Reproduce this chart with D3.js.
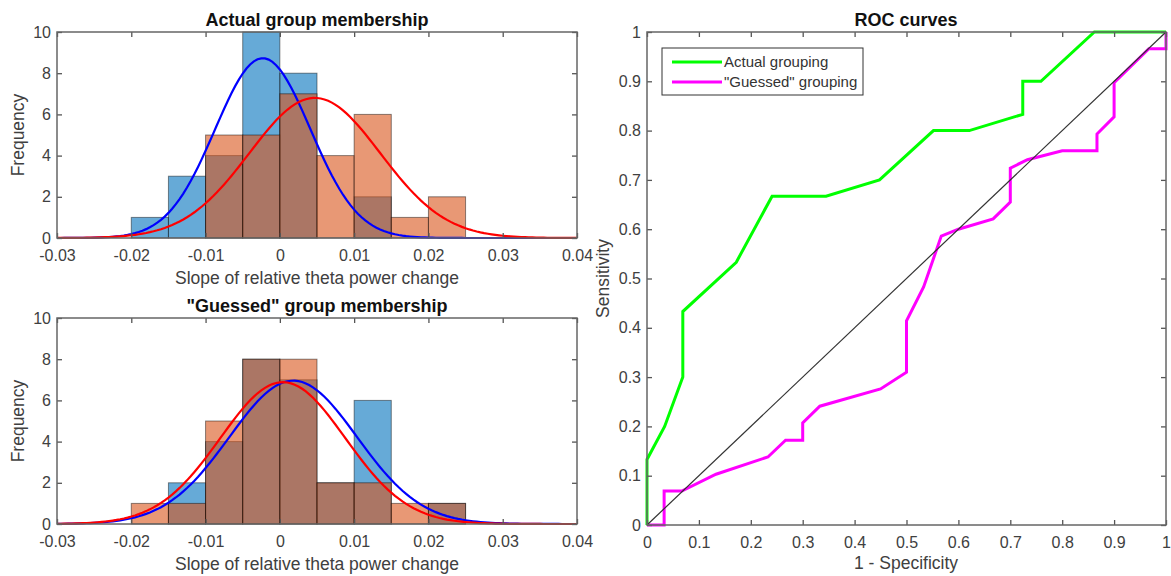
<!DOCTYPE html>
<html>
<head>
<meta charset="utf-8">
<script src="https://cdn.jsdelivr.net/npm/d3@7"></script>
<style>
body { margin: 0; background: #fff; }
text { font-family: "Liberation Sans", Arial, sans-serif; }
</style>
</head>
<body>
<div id="vis"></div>
<script>
// histogram bins (left edges, width 0.005)
const binEdges = [-0.02, -0.015, -0.01, -0.005, 0, 0.005, 0.01, 0.015, 0.02];
const BIN_W = 0.005;

// actual group membership counts
const actualBlue = [1, 3, 4, 10, 8, 0, 2, 0, 0];
const actualOrange = [0, 0, 5, 5, 7, 4, 6, 1, 2];
// guessed group membership counts
const guessedBlue = [0, 2, 4, 8, 7, 2, 6, 0, 1];
const guessedOrange = [1, 1, 5, 8, 8, 2, 2, 1, 1];

// normal fit parameters (mean, sd)
const actualFit = {blue: [-0.0023, 0.0064], red: [0.0047, 0.0088]};
const guessedFit = {blue: [0.0018, 0.0086], red: [0.0004, 0.0084]};

const histXTicks = [-0.03, -0.02, -0.01, 0, 0.01, 0.02, 0.03, 0.04];
const histYTicks = [0, 2, 4, 6, 8, 10];

// ROC curves: [1 - specificity, sensitivity]
const rocActual = [[0, 0], [0, 0.133], [0.034, 0.2], [0.069, 0.3], [0.069, 0.433],
  [0.172, 0.533], [0.241, 0.667], [0.345, 0.667], [0.448, 0.7], [0.552, 0.8],
  [0.621, 0.8], [0.724, 0.833], [0.724, 0.9], [0.759, 0.9], [0.862, 1], [1, 1]];
const rocGuessed = [[0, 0], [0.033, 0], [0.033, 0.069], [0.067, 0.069], [0.133, 0.103],
  [0.233, 0.138], [0.267, 0.172], [0.3, 0.172], [0.3, 0.207], [0.333, 0.241],
  [0.45, 0.276], [0.5, 0.31], [0.5, 0.414], [0.533, 0.483], [0.567, 0.586],
  [0.6, 0.6], [0.667, 0.621], [0.7, 0.655], [0.7, 0.724], [0.733, 0.741],
  [0.8, 0.759], [0.867, 0.759], [0.867, 0.793], [0.9, 0.828], [0.9, 0.897],
  [0.967, 0.966], [1, 0.966], [1, 1]];
const rocTicks = [0, 0.1, 0.2, 0.3, 0.4, 0.5, 0.6, 0.7, 0.8, 0.9, 1];
const legendLabels = ["Actual grouping", "\"Guessed\" grouping"];

const FRAME_WIDTH = 1171;
const FRAME_HEIGHT = 576;

const FRAME = d3.select("#vis")
  .append("svg")
    .attr("width", FRAME_WIDTH)
    .attr("height", FRAME_HEIGHT);

// plain hyphen instead of d3's unicode minus
const hyph = f => d => f(d).replace("\u2212", "-");

// draws a MATLAB style box with inward ticks on all four sides
function drawAxes(x, y, xTicks, yTicks, xFmt, yFmt) {
  const [x0, x1] = x.range();
  const [y0, y1] = y.range();
  const sides = [
    [d3.axisBottom(x).tickValues(xTicks).tickFormat(xFmt).tickPadding(12), 0, y0],
    [d3.axisTop(x).tickValues(xTicks).tickFormat(""), 0, y1],
    [d3.axisLeft(y).tickValues(yTicks).tickFormat(yFmt).tickPadding(6), x0, 0],
    [d3.axisRight(y).tickValues(yTicks).tickFormat(""), x1, 0]
  ];
  sides.forEach(([ax, tx, ty]) => {
    const g = FRAME.append("g")
      .attr("transform", "translate(" + tx + "," + ty + ")")
      .call(ax.tickSizeInner(-5).tickSizeOuter(0));
    g.select(".domain").remove();
    g.selectAll(".tick line").attr("stroke", "#555").attr("stroke-width", 1.3);
    g.selectAll(".tick text").attr("fill", "#404040").attr("font-size", 16);
  });
  FRAME.append("rect")
    .attr("x", x0).attr("y", y1)
    .attr("width", x1 - x0).attr("height", y0 - y1)
    .attr("fill", "none")
    .attr("stroke", "#666")
    .attr("stroke-width", 1.5);
}

function drawHist(top, bottom, blue, orange, fit, title) {
  const X = d3.scaleLinear().domain([-0.03, 0.04]).range([57, 577]);
  const Y = d3.scaleLinear().domain([0, 10]).range([bottom, top]);

  [[blue, "#0072BD"], [orange, "#D95319"]].forEach(([counts, col]) => {
    FRAME.append("g").selectAll("rect")
      .data(binEdges.map((e, i) => ({e: e, c: counts[i]})).filter(d => d.c > 0))
      .enter()
      .append("rect")
        .attr("x", d => X(d.e))
        .attr("y", d => Y(d.c))
        .attr("width", d => X(d.e + BIN_W) - X(d.e))
        .attr("height", d => Y(0) - Y(d.c))
        .attr("fill", col)
        .attr("fill-opacity", 0.6)
        .attr("stroke", "#000")
        .attr("stroke-opacity", 0.45)
        .attr("stroke-width", 1);
  });

  // histfit style normal curves scaled by N * bin width
  const xs = d3.range(-0.03, 0.04001, 0.0005);
  [[blue, fit.blue, "#0000FF"], [orange, fit.red, "#FF0000"]].forEach(([counts, p, col]) => {
    const n = d3.sum(counts);
    const pdf = v => n * BIN_W / (p[1] * Math.sqrt(2 * Math.PI)) *
      Math.exp(-0.5 * Math.pow((v - p[0]) / p[1], 2));
    FRAME.append("path")
      .datum(xs)
      .attr("d", d3.line().x(d => X(d)).y(d => Y(pdf(d))))
      .attr("fill", "none")
      .attr("stroke", col)
      .attr("stroke-width", 2.2);
  });

  drawAxes(X, Y, histXTicks, histYTicks,
    hyph(d => d === 0 ? "0" : d3.format(".2f")(d)), d3.format("d"));

  FRAME.append("text")
    .attr("x", 317).attr("y", top - 6)
    .attr("text-anchor", "middle")
    .attr("font-size", 18).attr("font-weight", "bold")
    .attr("fill", "#111")
    .text(title);
  FRAME.append("text")
    .attr("x", 317).attr("y", bottom + 46)
    .attr("text-anchor", "middle")
    .attr("font-size", 17.5).attr("fill", "#404040")
    .text("Slope of relative theta power change");
  FRAME.append("text")
    .attr("transform", "translate(24," + ((top + bottom) / 2) + ") rotate(-90)")
    .attr("text-anchor", "middle")
    .attr("font-size", 17.5).attr("fill", "#404040")
    .text("Frequency");
}

drawHist(32, 238, actualBlue, actualOrange, actualFit, "Actual group membership");
drawHist(318, 524, guessedBlue, guessedOrange, guessedFit, "\"Guessed\" group membership");

// ROC panel
const RX = d3.scaleLinear().domain([0, 1]).range([647, 1166]);
const RY = d3.scaleLinear().domain([0, 1]).range([525, 32]);
const rocLine = d3.line().x(d => RX(d[0])).y(d => RY(d[1]));

[[rocActual, "#00FF00"], [rocGuessed, "#FF00FF"]].forEach(([pts, col]) => {
  FRAME.append("path")
    .datum(pts)
    .attr("d", rocLine)
    .attr("fill", "none")
    .attr("stroke", col)
    .attr("stroke-width", 3)
    .attr("stroke-linejoin", "miter");
});

FRAME.append("path")
  .datum([[0, 0], [1, 1]])
  .attr("d", rocLine)
  .attr("stroke", "#333")
  .attr("stroke-width", 1.2);

drawAxes(RX, RY, rocTicks, rocTicks, d3.format("~g"), d3.format("~g"));

FRAME.append("text")
  .attr("x", 906).attr("y", 26)
  .attr("text-anchor", "middle")
  .attr("font-size", 18).attr("font-weight", "bold")
  .attr("fill", "#111")
  .text("ROC curves");
FRAME.append("text")
  .attr("x", 906).attr("y", 569)
  .attr("text-anchor", "middle")
  .attr("font-size", 17.5).attr("fill", "#404040")
  .text("1 - Specificity");
FRAME.append("text")
  .attr("transform", "translate(609," + ((32 + 525) / 2) + ") rotate(-90)")
  .attr("text-anchor", "middle")
  .attr("font-size", 17.5).attr("fill", "#404040")
  .text("Sensitivity");

// legend
const LEG = FRAME.append("g").attr("transform", "translate(662,48)");
LEG.append("rect")
  .attr("width", 201).attr("height", 47)
  .attr("fill", "#fff")
  .attr("stroke", "#333")
  .attr("stroke-width", 1);
legendLabels.forEach((lab, i) => {
  LEG.append("line")
    .attr("x1", 10).attr("x2", 60)
    .attr("y1", 14 + i * 20).attr("y2", 14 + i * 20)
    .attr("stroke", i === 0 ? "#00FF00" : "#FF00FF")
    .attr("stroke-width", 3);
  LEG.append("text")
    .attr("x", 62).attr("y", 14 + i * 20)
    .attr("dy", "0.35em")
    .attr("font-size", 15).attr("fill", "#333")
    .text(lab);
});
</script>
</body>
</html>
